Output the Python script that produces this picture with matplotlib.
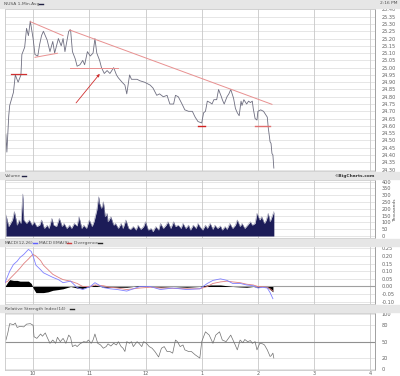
import matplotlib
matplotlib.use("Agg")
import matplotlib.pyplot as plt
from matplotlib.patches import Rectangle
import numpy as np

W, H = 400, 376

# ---- data (time = minutes after 9:30) ----
price_t = [1, 2, 4, 5, 9, 11, 14, 17, 18, 21, 23, 25, 27, 30, 32, 35, 37, 39, 41, 45,
           48, 51, 53, 57, 60, 62, 64, 68, 70, 72, 75, 77, 80, 83, 85, 88, 91, 94, 96, 98,
           101, 103, 106, 109, 112, 116, 119, 121, 125, 128, 130, 133, 135, 141, 144, 149,
           155, 158, 162, 165, 169, 173, 176, 180, 182, 185, 189, 192, 196, 200, 203, 206,
           210, 212, 214, 216, 219, 221, 223, 226, 228, 231, 232, 234, 237, 239, 241, 244,
           246, 248, 250, 252, 253, 255, 258, 260, 262, 264, 265, 267, 269, 270, 273, 276,
           278, 280, 281, 283, 284, 285, 286, 287]
price = [24.54, 24.42, 24.67, 24.74, 24.83, 24.95, 24.90, 24.95, 25.09, 25.14, 25.27, 25.22,
         25.32, 25.20, 25.09, 25.08, 25.16, 25.22, 25.25, 25.19, 25.11, 25.18, 25.10, 25.20,
         25.15, 25.20, 25.11, 25.25, 25.26, 25.11, 25.06, 25.01, 25.02, 25.05, 25.02, 25.11,
         25.08, 25.10, 25.20, 25.10, 25.05, 25.00, 24.96, 24.98, 24.96, 25.00, 24.95, 24.93,
         24.90, 24.88, 24.82, 24.95, 24.92, 24.92, 24.91, 24.90, 24.88, 24.86, 24.81, 24.82,
         24.80, 24.81, 24.75, 24.75, 24.81, 24.80, 24.75, 24.71, 24.70, 24.70, 24.66, 24.63,
         24.62, 24.69, 24.70, 24.77, 24.76, 24.75, 24.78, 24.78, 24.85, 24.80, 24.78, 24.75,
         24.80, 24.82, 24.85, 24.79, 24.72, 24.69, 24.67, 24.77, 24.74, 24.78, 24.75, 24.77,
         24.76, 24.77, 24.72, 24.65, 24.64, 24.70, 24.71, 24.70, 24.68, 24.66, 24.59, 24.49,
         24.48, 24.41, 24.40, 24.31]

vol_t = [1, 4, 8, 10, 13, 15, 17, 19, 20, 23, 26, 29, 31, 34, 37, 39, 42, 45, 47, 50, 52,
         55, 58, 61, 63, 66, 69, 71, 74, 77, 79, 82, 84, 87, 90, 93, 95, 98, 100, 101, 103,
         105, 107, 109, 110, 113, 116, 118, 121, 124, 126, 129, 132, 134, 137, 140, 142, 145,
         148, 150, 153, 156, 158, 161, 164, 166, 169, 172, 174, 177, 180, 182, 185, 188, 190,
         193, 196, 198, 201, 204, 206, 208, 211, 214, 216, 219, 222, 224, 227, 230, 232, 235,
         237, 240, 243, 246, 248, 251, 253, 256, 259, 262, 264, 267, 269, 272, 274, 277, 279,
         281, 283, 285, 287]
vol = [155, 70, 118, 180, 80, 118, 93, 309, 118, 93, 118, 80, 105, 70, 80, 118, 56, 80, 56,
       130, 80, 70, 130, 70, 93, 56, 80, 56, 93, 74, 142, 56, 80, 56, 118, 70, 105, 191, 289,
       240, 203, 252, 142, 167, 105, 142, 80, 93, 56, 93, 56, 118, 56, 49, 70, 44, 80, 49, 70,
       105, 44, 56, 32, 70, 44, 93, 56, 80, 105, 56, 105, 70, 80, 56, 93, 56, 80, 44, 80, 56,
       93, 70, 44, 80, 56, 93, 49, 80, 56, 74, 44, 70, 49, 93, 56, 80, 118, 70, 93, 56, 80,
       105, 80, 93, 167, 118, 142, 93, 118, 167, 105, 142, 179]

macd_t = [0, 3, 5, 9, 13, 16, 20, 25, 28, 30, 33, 38, 41, 46, 51, 57, 62, 70, 77, 83, 91,
          96, 105, 112, 120, 130, 144, 155, 166, 179, 194, 208, 216, 222, 230, 237, 243, 251,
          258, 265, 270, 275, 280, 283, 286]
macd = [0.025, 0.07, 0.10, 0.144, 0.166, 0.19, 0.21, 0.243, 0.23, 0.20, 0.14, 0.11, 0.09,
        0.075, 0.06, 0.045, 0.025, 0.035, -0.007, -0.02, 0.0, 0.025, -0.007, -0.015, -0.02,
        -0.03, 0.0, 0.0, -0.02, -0.01, -0.02, -0.015, 0.02, 0.04, 0.05, 0.04, 0.02, 0.02,
        0.01, 0.005, -0.01, -0.005, -0.01, -0.04, -0.08]
macd_ema = [0.025, 0.035, 0.05, 0.075, 0.10, 0.12, 0.15, 0.18, 0.20, 0.21, 0.20, 0.17, 0.14,
            0.11, 0.08, 0.06, 0.045, 0.035, 0.02, 0.0, 0.0, 0.01, 0.005, -0.005, -0.01, -0.02,
            -0.01, -0.005, -0.01, -0.012, -0.015, -0.015, 0.0, 0.02, 0.03, 0.035, 0.03, 0.025,
            0.015, 0.01, 0.0, -0.002, -0.005, -0.015, -0.03]
divergence = [0, 0.03, 0.045, 0.04, 0.04, 0.035, 0.035, 0.035, 0.02, -0.01, -0.04, -0.04,
              -0.04, -0.035, -0.025, -0.02, -0.015, 0.0, -0.01, -0.012, 0.0, 0.01, -0.005,
              -0.005, -0.005, -0.005, 0.005, 0.0, -0.005, 0.0, -0.005, 0.0, 0.01, 0.01, 0.01,
              0.005, 0.0, -0.003, -0.005, 0.0, -0.005, 0.0, -0.005, -0.02, -0.035]

rsi_t = [1, 3, 5, 9, 11, 13, 16, 20, 23, 27, 30, 31, 34, 38, 40, 43, 45, 48, 51, 54, 56, 59,
         62, 65, 68, 70, 72, 75, 77, 80, 84, 87, 89, 92, 94, 96, 99, 102, 105, 108, 110, 113,
         116, 119, 121, 124, 126, 128, 130, 133, 135, 137, 141, 143, 146, 148, 151, 154, 157,
         160, 164, 167, 170, 173, 176, 179, 182, 184, 187, 190, 192, 196, 199, 203, 208, 210,
         214, 218, 222, 225, 229, 232, 236, 241, 245, 248, 251, 254, 256, 259, 262, 264, 267,
         269, 272, 275, 277, 280, 283, 284, 286, 287]
rsi = [53, 66, 83, 81, 84, 76, 78, 77, 82, 83, 80, 59, 56, 64, 60, 66, 58, 47, 53, 47, 58,
       50, 56, 47, 62, 58, 41, 44, 41, 46, 50, 49, 53, 47, 53, 64, 47, 44, 38, 41, 46, 42, 47,
       44, 50, 41, 38, 32, 50, 47, 50, 41, 50, 47, 41, 50, 47, 41, 38, 32, 22, 38, 41, 32, 32,
       29, 53, 50, 41, 44, 35, 32, 32, 26, 20, 50, 68, 62, 47, 62, 68, 53, 50, 62, 47, 35, 53,
       48, 54, 50, 52, 47, 50, 35, 47, 46, 44, 35, 23, 24, 29, 20]

hour_t = [30, 90, 150, 210, 270, 330, 390]
hour_labels = ["10", "11", "12", "1", "2", "3", "4"]

GRID = "#dcdcdc"
VGRID = "#c8c8c8"
LBL = "#606060"
BAND = "#e6e6e6"

fig = plt.figure(figsize=(W / 100, H / 100), dpi=100)


def rect(x0, y0, x1, y1):
    return [x0 / W, 1 - y1 / H, (x1 - x0) / W, (y1 - y0) / H]


def band(y0, y1):
    fig.patches.append(Rectangle((0, 1 - y1 / H), 1, (y1 - y0) / H,
                                 transform=fig.transFigure, color=BAND, zorder=0))


def ftext(x, y, s, **kw):
    kw.setdefault("fontsize", 3.2)
    kw.setdefault("color", "#505050")
    fig.text(x / W, 1 - y / H, s, va="center", **kw)


def dash(x, y, color):
    fig.add_artist(plt.Line2D([x / W, (x + 4) / W], [1 - y / H, 1 - y / H],
                              transform=fig.transFigure, color=color, lw=1.0))


def setup(ax, ticks, fmt, ylim):
    ax.set_xlim(0, 395)
    ax.set_ylim(*ylim)
    ax.yaxis.tick_right()
    ax.set_yticks(ticks)
    ax.set_yticklabels([fmt % v for v in ticks])
    ax.tick_params(axis="y", length=0, pad=5, labelsize=3.6, labelcolor=LBL)
    ax.tick_params(axis="x", length=0, labelbottom=False)
    for v in ticks:
        ax.axhline(v, color=GRID, lw=0.5, zorder=0)
    for t in hour_t:
        ax.axvline(t, color=VGRID, lw=0.6, zorder=0)
    for s in ax.spines.values():
        s.set_color("#c8c8c8")
        s.set_linewidth(0.6)
    ax.spines["right"].set_color("#909090")


band(0, 8)
band(172, 179)
band(239, 246)
band(305, 312)

# ---- price panel ----
ax1 = fig.add_axes(rect(5, 9, 375, 171))
setup(ax1, np.round(np.arange(24.30, 25.401, 0.05), 2), "%.2f", (24.29, 25.403))
ax1.plot(price_t, price, color="#6e6e80", lw=0.6)
ax1.plot([6, 22], [24.957, 24.957], color="#d03030", lw=0.9)
ax1.plot([32, 56], [25.071, 25.099], color="#e89090", lw=0.7)
ax1.plot([27, 62], [25.316, 25.220], color="#e89090", lw=0.7)
ax1.plot([69, 285], [25.259, 24.748], color="#e89090", lw=0.7)
ax1.plot([69, 121], [25.00, 25.00], color="#e89090", lw=0.7)
ax1.plot([206, 214], [24.601, 24.601], color="#d02020", lw=1.0)
ax1.plot([267, 283], [24.601, 24.601], color="#e07070", lw=1.0)
ax1.annotate("", xy=(103, 24.972), xytext=(74, 24.743),
             arrowprops=dict(arrowstyle="-|>", color="#d03030", lw=0.6,
                             mutation_scale=4))

ftext(4, 4, "NUSA 1-Min.Avg")
dash(39, 4, "#222244")
ftext(397, 3.5, "2:16 PM", ha="right")

# ---- volume panel ----
ax2 = fig.add_axes(rect(5, 180, 375, 237.5))
setup(ax2, list(range(0, 401, 50)), "%d", (-11, 412))
ax2.fill_between(vol_t, vol, 0, color="#1c1c58", lw=0)
ax2.plot(vol_t, vol, color="#9a9ab0", lw=0.4)
ftext(5, 176, "Volume")
dash(22, 176, "#222244")
ftext(375, 176, "\u00a9BigCharts.com", ha="right", fontweight="bold", color="#333333")
ftext(395, 210, "Thousands", rotation=90, ha="center")

# ---- MACD panel ----
ax3 = fig.add_axes(rect(5, 246, 375, 304))
macd_ticks = [-0.10, -0.05, 0.00, 0.05, 0.10, 0.15, 0.20, 0.25]
setup(ax3, macd_ticks, "%.2f", (-0.1147, 0.2654))
ax3.axhline(0, color="#a0a0a0", lw=0.8, zorder=1)
ax3.fill_between(macd_t, divergence, 0, color="black", lw=0, zorder=2)
ax3.plot(macd_t, macd_ema, color="#e08080", lw=0.6, zorder=3)
ax3.plot(macd_t, macd, color="#8080ff", lw=0.6, zorder=3)
ftext(5, 243, "MACD(12,26)")
dash(33, 243, "#6060ff")
ftext(39, 243, "MACD EMA(9)")
dash(67, 243, "#d04040")
ftext(74, 243, "Divergence")
dash(98, 243, "#222222")

# ---- RSI panel ----
ax4 = fig.add_axes(rect(5, 313, 375, 370))
setup(ax4, [0, 20, 50, 80, 100], "%d", (-1.8, 102.4))
ax4.axhline(50, color="#909090", lw=0.8, zorder=1)
ax4.plot(rsi_t, rsi, color="#707070", lw=0.5)
ax4.set_xticks(hour_t)
ax4.set_xticklabels(hour_labels)
ax4.tick_params(axis="x", labelbottom=True, labelsize=3.6, labelcolor=LBL, pad=1)
ftext(5, 309, "Relative Strength Index(14)")
dash(70, 309, "#222222")

fig.savefig("out.png", dpi=100)
